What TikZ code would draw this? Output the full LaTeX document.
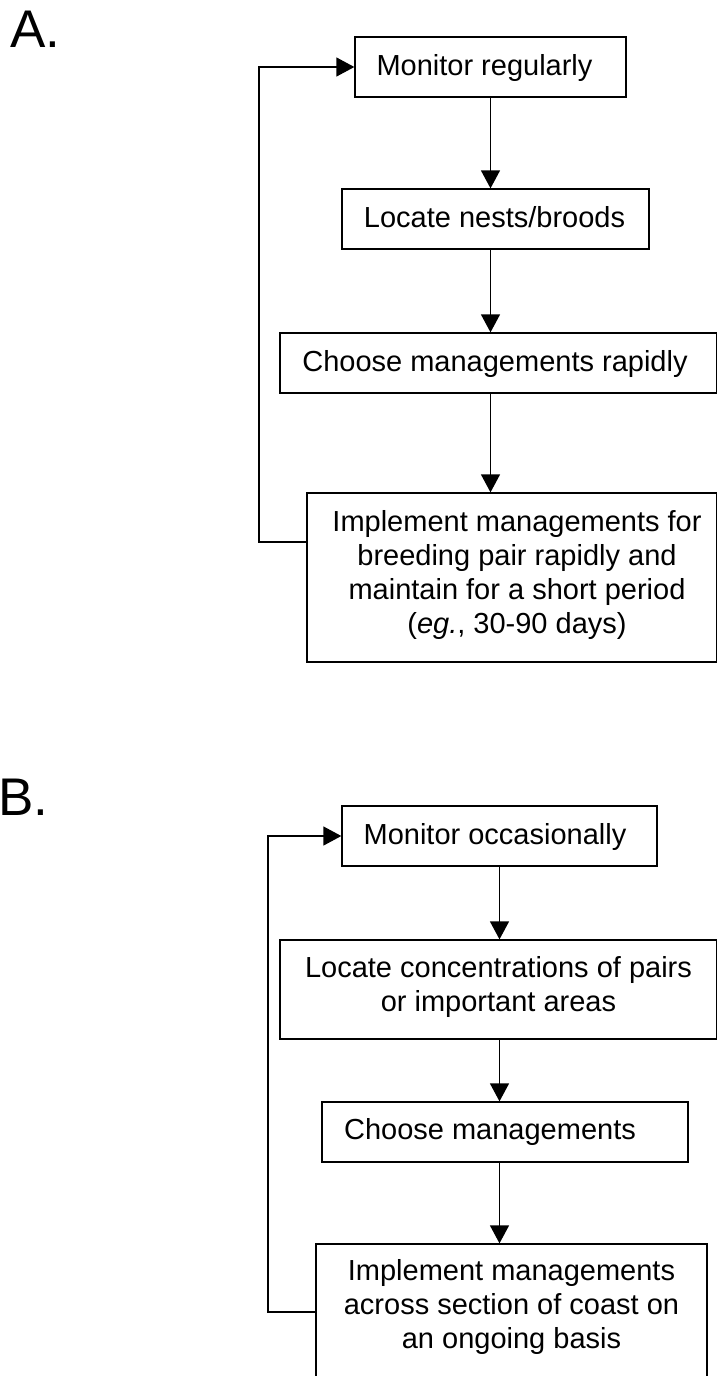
\documentclass[tikz,border=0pt]{standalone}
\usepackage{fontspec}
\setmainfont{Liberation Sans}
\usetikzlibrary{arrows.meta}
\begin{document}
\begin{tikzpicture}[x=1pt,y=-1pt,
  box/.style={draw, line width=1.3pt, inner sep=0pt, rectangle},
  txt/.style={font=\fontsize{29}{34}\selectfont, inner sep=0pt, anchor=base, align=center},
  arr/.style={line width=1.3pt, -{Triangle[length=18pt,width=19pt]}},
  lbl/.style={font=\fontsize{53}{60}\selectfont, inner sep=0pt, anchor=base west}]
\useasboundingbox (0,0) rectangle (718,1376);

% Panel labels
\node[lbl] (labA) at (10,47) {A.};
\node[lbl] (labB) at (-2,815) {B.};

% Panel A boxes
\node[box, minimum width=271pt, minimum height=60pt] (m1) at (490.5,67) {};
\node[box, minimum width=307pt, minimum height=60pt] (l1) at (495.5,219) {};
\node[box, minimum width=436.5pt, minimum height=60pt] (c1) at (498.25,363) {};
\node[box, minimum width=409.5pt, minimum height=169pt] (i1) at (511.75,577.5) {};

\node[txt] (tm1) at (484.5,75) {Monitor regularly};
\node[txt] (tl1) at (494.5,227) {Locate nests/broods};
\node[txt] (tc1) at (495,371) {Choose managements rapidly};
\node[txt] (ti1) at (517,633) {Implement managements for\\breeding pair rapidly and\\maintain for a short period\\(\textit{eg.}, 30-90 days)};

\draw[arr] (m1.south) -- (m1.south |- l1.north);
\draw[arr] (l1.south -| m1.south) -- (m1.south |- c1.north);
\draw[arr] (c1.south -| m1.south) -- (m1.south |- i1.north);
\coordinate (lpA) at (259,542);
\draw[arr] (lpA -| i1.west) -- (lpA) |- (m1.west);

% Panel B boxes
\node[box, minimum width=315pt, minimum height=60pt] (m2) at (499.5,836) {};
\node[box, minimum width=436.5pt, minimum height=99pt] (l2) at (498.25,989.5) {};
\node[box, minimum width=366pt, minimum height=60pt] (c2) at (505,1132) {};
\node[box, minimum width=391pt, minimum height=146pt] (i2) at (511.5,1317) {};

\node[txt] (tm2) at (495,844) {Monitor occasionally};
\node[txt] (tl2) at (498.5,1011.5) {Locate concentrations of pairs\\or important areas};
\node[txt] (tc2) at (490,1139) {Choose managements};
\node[txt] (ti2) at (511.5,1348) {Implement managements\\across section of coast on\\an ongoing basis};

\draw[arr] (m2.south) -- (m2.south |- l2.north);
\draw[arr] (l2.south -| m2.south) -- (m2.south |- c2.north);
\draw[arr] (c2.south -| m2.south) -- (m2.south |- i2.north);
\coordinate (lpB) at (268,1312);
\draw[arr] (lpB -| i2.west) -- (lpB) |- (m2.west);
\end{tikzpicture}
\end{document}
